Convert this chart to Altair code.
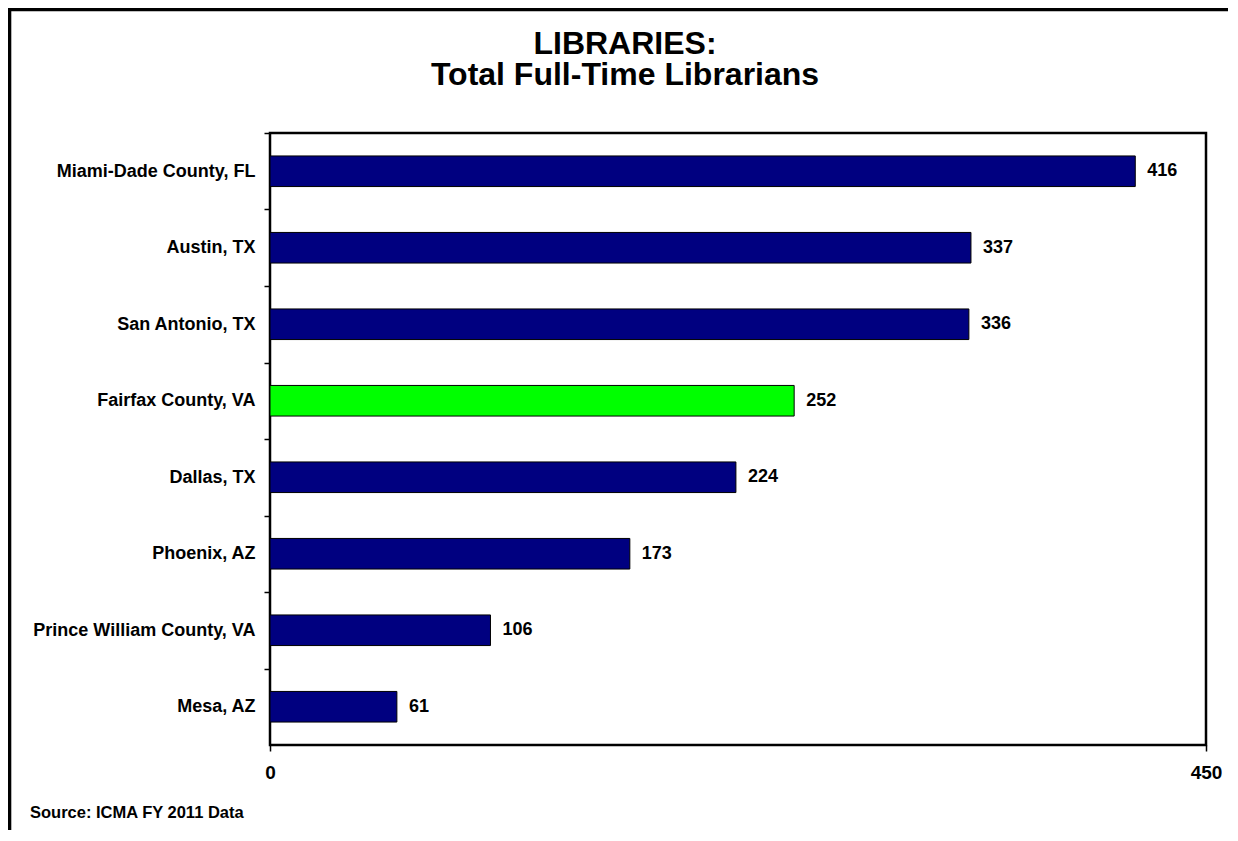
import altair as alt
import pandas as pd

# ---- data ----
cities = [
    "Miami-Dade County, FL",
    "Austin, TX",
    "San Antonio, TX",
    "Fairfax County, VA",
    "Dallas, TX",
    "Phoenix, AZ",
    "Prince William County, VA",
    "Mesa, AZ",
]
librarians = [416, 337, 336, 252, 224, 173, 106, 61]
highlight = ["Fairfax County, VA"]
x_ticks = [0, 450]
title_lines = ["LIBRARIES:", "Total Full-Time Librarians"]
source_note = ["Source: ICMA FY 2011 Data"]

df = pd.DataFrame({"city": cities, "value": librarians})
df["group"] = ["highlight" if c in highlight else "other" for c in cities]

FONT = "Liberation Sans"
W, H = 936, 612
step = H / len(cities)

y_enc = alt.Y(
    "city:N",
    sort=None,
    title=None,
    scale=alt.Scale(paddingInner=0.6, paddingOuter=0.3),
    axis=alt.Axis(
        domain=False,
        grid=False,
        tickColor="black",
        tickWidth=1.5,
        tickSize=6,
        tickOffset=-step / 2,
        labelOffset=step / 2,
        labelPadding=9,
        labelLimit=400,
        labelFont=FONT,
        labelFontWeight="bold",
        labelFontSize=18,
        labelColor="black",
    ),
)
x_enc = alt.X(
    "value:Q",
    title=None,
    scale=alt.Scale(domain=[0, 450], nice=False),
    axis=alt.Axis(
        values=x_ticks,
        domain=False,
        grid=False,
        tickColor="black",
        tickWidth=1.5,
        tickSize=6,
        labelFont=FONT,
        labelFontWeight="bold",
        labelFontSize=19,
        labelColor="black",
        labelPadding=12,
        labelFlush=False,
    ),
)
color_enc = alt.Color(
    "group:N",
    scale=alt.Scale(domain=["other", "highlight"], range=["#000080", "#00FF00"]),
    legend=None,
)

bars = alt.Chart(df).mark_bar(stroke="black", strokeWidth=1).encode(
    y=y_enc, x=x_enc, color=color_enc
)
labels = alt.Chart(df).mark_text(
    align="left", baseline="middle", dx=12, font=FONT, fontSize=18,
    fontWeight="bold", color="black"
).encode(y=y_enc, x=x_enc, text="value:Q")

src_df = pd.DataFrame({"t": source_note})
source = alt.Chart(src_df).mark_text(
    align="left", baseline="middle", font=FONT, fontSize=16.5,
    fontWeight="bold", color="black"
).encode(x=alt.value(-240), y=alt.value(680), text="t:N")

t1 = alt.Chart(pd.DataFrame({"t": [title_lines[0]]})).mark_text(
    align="center", baseline="alphabetic", font=FONT, fontSize=32,
    fontWeight="bold", color="black"
).encode(x=alt.value(355), y=alt.value(-79), text="t:N")
t2 = alt.Chart(pd.DataFrame({"t": [title_lines[1]]})).mark_text(
    align="center", baseline="alphabetic", font=FONT, fontSize=32,
    fontWeight="bold", color="black"
).encode(x=alt.value(355), y=alt.value(-48), text="t:N")

frame_df = pd.DataFrame({"a": [0]})
frame_left = alt.Chart(frame_df).mark_rule(color="black", strokeWidth=4).encode(
    x=alt.value(-260.7), y=alt.value(-125.7), y2=alt.value(720)
)
frame_top = alt.Chart(frame_df).mark_rule(color="black", strokeWidth=4).encode(
    x=alt.value(-262.7), x2=alt.value(980), y=alt.value(-123.7)
)

chart = alt.layer(frame_left, frame_top, bars, labels, source, t1, t2).properties(
    width=W,
    height=H,
    autosize=alt.AutoSizeParams(type="none"),
    padding={"left": 262, "top": 125, "right": 22, "bottom": 85},
).configure_view(stroke="black", strokeWidth=2.5)

chart.save("out.html", embed_options={"renderer": "svg", "actions": False})
